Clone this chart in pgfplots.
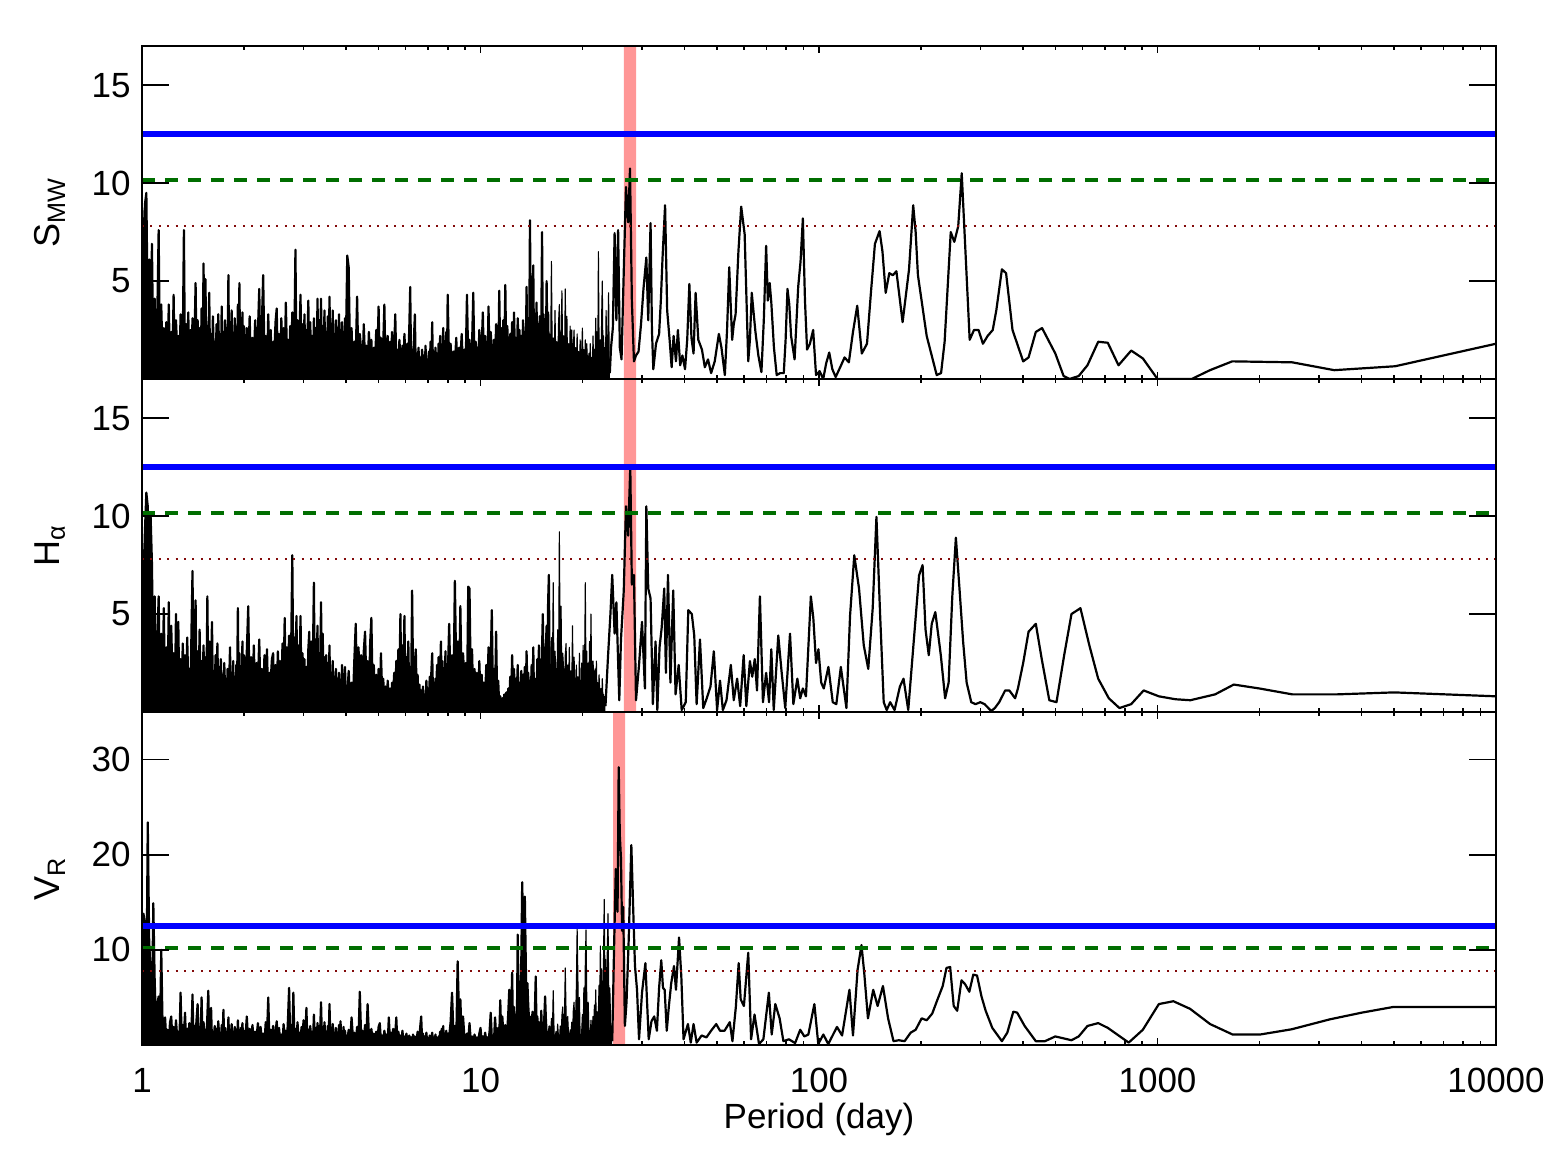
\documentclass[border=0pt]{standalone}
\usepackage{fontspec}
\setmainfont{Liberation Sans}
\usepackage{pgfplots}
\usepackage{pgfplotstable}
\pgfplotsset{compat=1.18}
\definecolor{bandred}{RGB}{255,150,150}
\definecolor{sigblue}{RGB}{0,0,255}
\definecolor{siggreen}{RGB}{0,110,0}
\definecolor{sigbrown}{RGB}{130,10,10}
\tikzset{mycurve/.style={black, line width=1.1pt, line join=round},
         thincurve/.style={black, line width=0.55pt, line join=round}}

\pgfplotstableread{
P S H V
1.00 8.6 8.3 12.0
1.01 5.2 6.5 13.8
1.02 8.9 9.2 12.8
1.03 9.5 11.2 4.0
1.04 3.1 10.5 23.4
1.05 6.1 5.0 11.0
1.06 1.4 10.1 7.6
1.07 6.9 7.6 3.2
1.08 0.8 2.0 14.9
1.09 4.1 5.9 6.9
1.10 1.2 1.1 2.1
1.11 3.4 3.6 4.3
1.12 7.6 5.9 5.1
1.13 0.6 0.7 1.0
1.14 3.8 4.0 10.0
1.15 1.0 1.6 2.2
1.16 2.6 5.3 0.8
1.17 0.3 0.4 2.9
1.18 2.9 3.3 0.4
1.19 1.1 1.0 1.6
1.20 3.8 5.6 0.3
1.21 0.5 0.6 2.4
1.22 2.4 4.4 3.0
1.23 0.9 1.8 0.5
1.24 4.3 3.0 1.9
1.25 0.2 0.3 0.2
1.26 3.0 5.0 2.6
1.27 1.6 1.2 0.9
1.28 2.2 4.6 1.4
1.29 0.4 0.5 0.3
1.30 3.3 2.7 5.5
1.31 0.7 1.4 0.6
1.32 2.0 3.5 2.1
1.33 7.6 0.2 1.0
1.34 0.3 2.9 3.4
1.35 2.8 0.8 0.2
1.36 1.2 3.8 1.7
1.37 3.4 1.5 0.4
1.38 0.1 2.2 2.3
1.39 2.5 0.4 0.8
1.40 0.9 4.1 1.5
1.41 3.1 7.2 5.3
1.42 0.5 1.0 0.3
1.43 2.2 3.9 2.0
1.44 4.9 5.7 1.1
1.45 0.6 0.6 2.8
1.46 3.0 3.1 4.3
1.47 1.3 1.3 0.5
1.48 2.6 4.2 1.9
1.49 0.2 0.3 0.9
1.50 3.6 2.6 5.0
1.51 1.0 1.7 0.2
1.52 5.9 3.4 2.4
1.53 0.8 0.5 1.2
1.54 5.1 2.8 1.6
1.55 0.4 1.1 0.4
1.56 2.7 5.9 3.1
1.57 1.5 0.9 5.7
1.58 4.4 3.6 0.7
1.59 0.3 0.2 2.2
1.60 2.3 2.4 3.9
1.61 0.7 4.6 0.3
1.62 3.2 0.7 1.4
1.63 1.1 2.1 0.8
1.64 1.9 1.3 2.0
1.65 0.1 2.9 0.1
1.66 2.8 0.4 1.7
1.67 0.6 3.5 0.5
1.68 3.3 1.0 2.5
1.69 1.4 2.3 1.0
1.70 2.1 0.1 1.3
1.71 0.5 2.7 0.2
1.72 3.7 0.8 2.1
1.73 0.2 1.9 0.6
1.74 2.4 0.5 3.7
1.75 1.0 2.5 0.4
1.76 3.0 1.2 1.8
1.77 0.4 1.7 0.9
1.78 2.6 0.3 1.2
1.79 1.2 2.2 0.1
1.80 5.3 0.9 2.9
1.81 0.3 1.6 0.5
1.82 2.9 3.3 1.6
1.83 0.8 0.4 0.3
1.84 3.5 2.0 2.2
1.85 1.3 1.1 0.8
1.86 2.0 2.6 1.0
1.87 0.1 0.2 0.2
1.88 3.1 1.8 1.9
1.89 0.6 0.7 0.6
1.90 2.5 2.4 1.4
1.91 1.1 1.4 0.4
1.92 3.8 5.3 2.6
1.93 0.4 0.6 0.7
1.94 4.9 3.0 1.1
1.95 0.9 1.2 0.2
1.96 2.2 2.3 1.8
1.97 0.2 0.3 0.5
1.98 3.4 3.6 2.3
1.99 1.0 0.8 0.9
2.00 2.7 2.9 1.5
2.02 0.4 1.2 0.6
2.04 2.6 3.1 3.0
2.06 0.9 5.4 0.3
2.08 3.2 0.6 1.7
2.10 0.2 2.8 0.5
2.12 2.1 1.0 2.1
2.14 1.1 3.4 0.2
2.16 3.0 0.3 1.4
2.18 0.5 2.5 0.8
2.20 2.4 1.4 2.3
2.22 4.6 3.7 0.4
2.24 0.3 0.8 1.9
2.26 2.8 2.2 0.6
2.28 5.3 0.4 1.2
2.30 1.2 2.9 0.1
2.32 2.2 1.1 2.4
2.34 0.1 3.2 0.9
2.36 3.3 0.5 5.0
2.38 0.8 2.0 0.3
2.40 2.5 1.6 1.6
2.42 0.4 2.7 0.7
2.44 1.9 3.0 2.0
2.46 1.3 0.2 0.2
2.48 2.9 2.4 1.3
2.50 3.6 0.9 2.5
2.52 0.6 3.1 0.5
2.54 2.3 1.3 1.8
2.56 0.2 2.6 0.4
2.58 3.1 0.6 1.1
2.60 1.0 3.5 0.2
2.62 2.6 1.8 2.2
2.64 0.5 4.8 0.8
2.66 3.9 0.7 1.5
2.68 1.4 3.3 0.3
2.70 2.0 2.1 2.8
2.72 0.3 3.9 6.0
2.74 2.7 0.4 0.9
2.76 0.9 3.6 2.1
2.78 3.4 8.0 0.6
2.80 1.1 1.2 5.5
2.82 2.2 3.8 0.4
2.84 6.6 2.5 1.7
2.86 0.7 4.9 0.2
2.88 3.0 0.9 2.4
2.90 1.5 3.4 0.7
2.92 2.4 2.0 1.3
2.94 4.3 4.9 0.3
2.96 0.2 0.6 1.9
2.98 2.8 3.0 0.5
3.00 1.2 1.5 2.6
3.02 3.3 2.7 0.8
3.04 0.4 0.3 1.2
3.06 2.5 2.3 3.9
3.08 1.7 1.1 0.4
3.10 4.0 3.2 1.6
3.12 0.6 4.1 0.2
3.14 2.9 0.8 2.0
3.16 1.0 3.6 0.9
3.18 2.2 1.9 1.4
3.20 0.3 3.1 0.3
3.22 3.1 6.6 3.2
3.24 1.4 1.0 0.6
3.26 2.6 3.7 1.8
3.28 0.5 2.4 0.4
3.30 4.1 4.4 2.3
3.32 0.9 0.5 1.0
3.34 3.0 3.0 0.2
3.36 1.8 2.2 1.5
3.38 4.1 5.6 4.5
3.40 0.2 1.4 0.7
3.42 2.7 4.0 1.9
3.44 1.3 0.7 0.3
3.46 3.5 2.8 2.4
3.48 0.7 1.6 0.8
3.50 2.4 2.9 1.1
3.52 1.1 0.4 0.2
3.54 3.2 2.5 2.0
3.56 0.4 1.2 0.5
3.58 4.2 3.4 4.3
3.60 1.6 0.6 0.9
3.62 2.8 2.0 1.6
3.64 0.8 1.3 0.3
3.66 3.5 2.6 2.2
3.68 1.2 0.2 0.7
3.70 2.3 1.8 1.3
3.72 0.3 0.9 0.1
3.74 3.0 2.2 1.8
3.76 1.5 0.5 0.6
3.78 2.6 1.7 1.2
3.80 0.6 1.1 0.4
3.82 3.3 2.0 2.1
3.84 1.0 0.3 0.8
3.86 2.5 1.5 2.5
3.88 0.2 0.8 0.3
3.90 2.9 2.4 1.4
3.92 1.3 0.6 0.7
3.94 2.1 1.9 1.9
3.96 0.5 1.0 0.2
3.98 3.1 2.3 1.5
4.00 1.4 0.4 0.6
4.04 6.3 0.9 0.5
4.08 5.7 2.1 1.6
4.12 0.8 0.3 0.2
4.16 2.6 1.5 2.9
4.20 0.3 0.6 0.7
4.24 1.9 2.7 1.3
4.28 1.2 4.5 0.3
4.32 4.2 1.0 1.9
4.36 0.5 3.3 0.6
4.40 2.3 1.8 5.6
4.44 1.5 2.9 0.9
4.48 0.2 0.7 1.5
4.52 2.8 3.1 0.4
4.56 0.9 4.1 2.1
4.60 1.7 1.4 0.8
4.64 0.4 2.6 4.3
4.68 2.4 0.5 1.1
4.72 1.1 3.5 0.3
4.76 2.0 4.8 1.7
4.80 0.3 1.2 0.5
4.84 1.6 2.4 1.2
4.88 0.7 0.4 0.2
4.92 2.5 1.9 1.4
4.96 1.3 0.8 0.6
5.00 3.7 2.2 1.9
5.04 0.5 0.3 2.3
5.08 2.1 3.0 0.4
5.12 0.2 1.1 1.0
5.16 1.8 1.7 0.3
5.20 3.8 0.5 1.5
5.24 0.6 1.3 0.7
5.28 1.4 0.2 1.1
5.32 2.2 1.6 0.2
5.36 0.4 0.6 2.9
5.40 1.9 1.2 0.5
5.44 1.0 0.3 1.3
5.48 2.4 1.5 0.4
5.52 0.3 0.9 1.7
5.56 1.6 2.0 0.8
5.60 3.3 0.7 1.2
5.64 0.8 2.6 2.9
5.68 1.5 1.3 0.3
5.72 0.2 3.2 1.4
5.76 2.0 1.8 0.6
5.80 1.1 5.0 1.0
5.84 0.4 0.9 0.2
5.88 1.7 3.4 1.5
5.92 0.6 2.1 0.4
5.96 2.3 4.9 0.9
6.00 1.2 1.0 0.3
6.04 0.3 2.8 1.2
6.08 1.8 1.5 0.5
6.12 0.9 3.6 0.1
6.16 2.6 0.6 1.0
6.20 4.7 2.3 0.4
6.24 0.5 1.2 0.8
6.28 1.4 6.2 0.2
6.32 0.7 2.0 1.1
6.36 2.1 0.8 0.3
6.40 3.3 2.5 0.9
6.44 0.2 3.2 0.2
6.48 1.3 0.7 0.6
6.52 0.6 1.9 1.4
6.56 1.6 0.4 0.4
6.60 0.4 1.4 0.8
6.64 1.1 0.6 2.0
6.68 0.3 1.1 3.0
6.72 1.5 0.3 0.6
6.76 0.8 1.3 1.2
6.80 1.2 0.5 0.3
6.84 0.2 0.9 0.9
6.88 1.7 0.2 0.5
6.92 0.6 1.6 1.3
6.96 1.0 0.7 0.2
7.00 0.3 1.2 0.7
7.04 1.4 0.4 0.4
7.08 0.5 1.8 1.0
7.12 1.9 0.6 0.2
7.16 0.7 2.1 0.6
7.20 2.9 3.0 1.3
7.24 0.4 0.8 0.3
7.28 1.2 1.5 0.8
7.32 0.2 0.3 0.2
7.36 1.6 1.7 1.1
7.40 0.8 0.9 0.4
7.44 1.3 2.4 0.7
7.48 0.3 1.1 0.2
7.52 1.8 2.8 0.9
7.56 0.6 0.5 0.5
7.60 2.2 1.9 1.4
7.64 0.4 3.6 0.3
7.68 1.5 1.3 1.7
7.72 0.9 2.6 0.6
7.76 2.6 0.7 2.0
7.80 0.2 2.0 0.4
7.84 1.7 1.4 1.0
7.88 1.1 3.1 0.3
7.92 2.4 0.8 1.5
7.96 0.5 2.2 0.7
8.00 4.3 1.6 1.2
8.08 0.6 4.5 0.9
8.16 1.8 1.2 2.4
8.24 0.3 2.9 5.5
8.32 1.4 0.8 1.1
8.40 0.8 6.7 2.0
8.48 2.1 2.0 0.4
8.56 0.2 3.6 8.8
8.64 1.6 1.0 3.1
8.72 1.0 5.4 4.8
8.80 2.3 0.9 0.6
8.88 0.4 3.0 3.0
8.96 1.5 1.7 0.9
9.04 0.7 2.5 0.3
9.12 4.3 0.5 1.2
9.20 0.9 6.4 0.5
9.28 2.0 6.3 2.3
9.36 0.3 1.4 0.4
9.44 1.7 3.2 0.9
9.52 4.4 0.6 0.2
9.60 0.6 2.2 1.1
9.68 1.9 1.1 0.5
9.76 1.2 2.0 0.8
9.84 0.4 0.4 0.3
9.92 2.5 2.6 1.2
10.00 0.8 0.8 1.8
10.08 1.6 1.9 0.4
10.16 3.4 0.3 0.9
10.24 0.5 1.5 0.2
10.32 2.2 0.7 1.3
10.40 1.1 2.4 0.5
10.48 0.3 1.0 0.8
10.56 3.7 3.3 0.3
10.64 0.9 1.2 1.5
10.72 2.4 2.7 3.4
10.80 1.4 5.2 0.7
10.88 0.2 0.9 1.0
10.96 2.0 2.2 0.4
11.04 0.7 0.6 2.9
11.12 2.8 4.1 1.1
11.20 1.3 0.7 0.3
11.28 0.4 1.6 1.8
11.36 4.5 0.3 0.9
11.44 1.0 0.8 4.7
11.52 2.6 0.2 0.6
11.60 0.5 0.7 3.0
11.68 3.0 0.4 1.2
11.76 1.5 0.9 0.4
11.84 4.8 0.3 2.1
11.92 0.6 1.0 0.7
12.00 2.7 0.5 1.5
12.08 1.2 1.2 3.4
12.16 0.3 0.4 5.8
12.24 2.3 1.8 0.9
12.32 1.1 0.6 2.6
12.40 2.9 2.9 7.6
12.48 0.5 1.1 1.3
12.56 3.4 2.2 4.0
12.64 1.4 0.5 0.7
12.72 2.1 1.7 3.2
12.80 0.4 0.9 1.4
12.88 3.1 2.4 11.6
12.96 1.6 0.6 5.2
13.04 2.5 1.5 4.8
13.12 0.7 0.8 2.2
13.20 2.2 2.1 9.0
13.28 1.3 0.4 17.1
13.36 3.0 1.9 12.0
13.44 0.9 1.2 10.5
13.52 2.4 2.3 15.6
13.60 1.0 0.7 9.3
13.68 4.7 3.1 3.3
13.76 0.6 1.2 6.5
13.84 3.1 2.0 4.1
13.92 1.2 0.5 2.6
14.00 8.1 1.6 3.0
14.08 2.9 0.8 1.9
14.16 1.1 2.4 1.6
14.24 3.5 0.8 3.5
14.32 5.8 3.3 2.0
14.40 0.8 0.4 0.8
14.48 2.6 1.7 3.8
14.56 1.7 1.3 7.2
14.64 3.9 0.6 1.7
14.72 0.5 2.7 3.0
14.80 2.8 1.1 0.9
14.88 1.4 3.4 2.4
14.96 3.2 1.0 2.0
15.04 0.9 2.6 0.4
15.12 2.6 1.4 3.6
15.20 7.5 3.2 1.2
15.28 1.9 5.0 2.3
15.36 3.3 1.5 0.6
15.44 0.7 2.9 3.1
15.52 2.8 1.2 5.1
15.60 1.5 3.4 2.8
15.68 5.0 4.4 1.1
15.76 2.0 2.5 0.6
15.84 3.4 5.6 0.9
15.92 0.8 7.0 1.2
16.00 2.3 2.4 2.0
}\dense

% transition zone
\pgfplotstableread{
P S
15.92 0.8
16.00 2.3
16.10 0.4
16.20 6.0
16.30 0.8
16.40 2.1
16.50 0.3
16.60 3.5
16.70 0.6
16.80 1.9
16.90 0.2
17.00 2.8
17.10 3.8
17.20 0.5
17.30 1.7
17.40 4.5
17.50 0.9
17.60 2.2
17.70 0.3
17.80 4.6
17.90 1.0
18.00 3.2
18.10 0.2
18.20 1.8
18.30 0.6
18.40 2.7
18.50 0.4
18.60 2.5
18.70 0.9
18.80 1.5
18.90 2.5
19.00 0.3
19.10 1.6
19.20 0.7
19.30 2.3
19.40 0.2
19.50 1.4
19.60 0.4
19.70 2.0
19.80 0.8
19.90 1.2
20.00 2.6
20.10 0.3
20.20 1.5
20.30 0.6
20.40 2.0
20.50 0.2
20.60 1.8
20.70 0.9
20.80 0.3
20.90 1.3
21.00 0.5
21.10 1.8
21.20 0.2
21.30 1.1
21.40 0.6
21.50 2.2
21.60 0.4
21.70 1.5
21.80 0.8
21.90 3.1
22.00 1.0
22.10 2.4
22.20 0.5
22.30 6.5
22.40 1.8
22.50 0.7
22.60 2.0
22.70 0.4
22.80 3.2
22.90 5.0
23.00 0.9
23.10 2.2
23.20 0.3
23.30 1.6
23.40 0.8
23.50 3.5
23.60 1.2
23.70 0.5
23.80 2.5
23.90 4.4
24.00 1.0
24.10 0.3
}\transS

\pgfplotstableread{
P H
15.92 7.0
16.00 2.4
16.10 0.5
16.20 3.8
16.30 1.2
16.40 6.6
16.50 0.9
16.60 3.1
16.70 2.0
16.80 0.4
16.90 4.2
17.00 1.5
17.10 9.2
17.20 2.6
17.30 5.4
17.40 0.8
17.50 3.0
17.60 2.2
17.70 0.3
17.80 2.9
17.90 3.5
18.00 0.6
18.10 2.4
18.20 1.0
18.30 3.3
18.40 0.5
18.50 2.1
18.60 1.2
18.70 4.4
18.80 0.7
18.90 2.8
19.00 1.5
19.10 0.2
19.20 2.4
19.30 0.9
19.40 1.8
19.50 0.4
19.60 3.0
19.70 1.1
19.80 0.3
19.90 2.5
20.00 1.2
20.10 3.4
20.20 0.6
20.30 2.2
20.40 6.6
20.50 1.4
20.60 3.1
20.70 0.5
20.80 2.5
20.90 1.0
21.00 3.6
21.10 0.8
21.20 5.0
21.30 1.6
21.40 0.3
21.50 2.6
21.60 1.8
21.70 0.5
21.80 2.2
21.90 0.9
22.00 2.6
22.10 0.4
22.20 1.5
22.30 0.7
22.40 1.9
22.50 1.0
22.60 0.3
22.70 1.2
22.80 0.5
22.90 1.7
23.00 0.6
23.10 0.9
23.20 0.2
23.30 0.8
23.40 0.3
}\transH

\pgfplotstableread{
P V
15.92 1.2
16.00 2.0
16.10 0.5
16.20 2.8
16.30 0.9
16.40 5.7
16.50 1.2
16.60 0.3
16.70 1.4
16.80 0.4
16.90 2.2
17.00 0.8
17.10 0.2
17.20 2.0
17.30 0.6
17.40 3.1
17.50 4.0
17.60 0.9
17.70 2.5
17.80 8.1
17.90 3.3
18.00 0.7
18.10 3.0
18.20 1.1
18.30 0.2
18.40 1.6
18.50 0.6
18.60 2.4
18.70 0.9
18.80 3.6
18.90 4.5
19.00 1.0
19.10 2.9
19.20 6.2
19.30 12.3
19.40 7.0
19.50 1.8
19.60 5.0
19.70 0.8
19.80 0.3
19.90 1.3
20.00 3.2
20.10 0.9
20.20 6.0
20.30 2.4
20.40 8.5
20.50 12.1
20.60 5.1
20.70 1.2
20.80 4.5
20.90 2.0
21.00 0.4
21.10 0.9
21.20 2.6
21.30 0.5
21.40 1.8
21.50 3.0
21.60 1.1
21.70 4.2
21.80 2.0
21.90 5.8
22.00 1.4
22.10 3.5
22.20 0.8
22.30 3.5
22.40 6.3
22.50 4.2
22.60 10.4
22.70 3.6
22.80 8.0
22.90 5.2
23.00 2.1
23.10 9.6
23.20 15.3
23.30 7.5
23.40 9.0
23.50 3.1
23.60 6.2
23.70 10.2
23.80 13.8
23.90 7.1
24.00 2.4
24.10 6.0
24.20 3.3
24.30 0.9
24.40 2.0
24.50 0.4
}\transV

\pgfplotstableread{
P S
24.10 0.3
24.3 1.6
24.6 2.6
24.9 7.45
25.2 3.0
25.5 7.6
25.8 1.6
26.1 1.0
26.5 5.5
26.9 9.8
27.3 8.0
27.65 10.75
28.0 4.0
28.4 0.9
28.8 1.2
29.3 1.4
29.8 2.8
30.3 4.6
30.9 6.2
31.3 3.0
31.8 7.96
32.1 2.5
32.4 0.5
33.0 1.8
33.7 2.3
34.1 4.0
34.5 6.2
35.1 8.87
35.6 3.5
36.2 2.0
36.7 0.6
37.2 2.2
37.8 0.9
38.3 2.5
38.9 0.7
39.5 1.2
40.2 0.5
40.8 2.0
41.4 4.85
42.0 2.1
42.6 1.3
43.2 4.4
44.0 2.0
45.1 1.5
46.0 0.6
47.0 1.0
48.0 0.3
49.2 0.9
50.6 2.3
51.5 1.6
52.7 0.2
53.5 2.5
54.3 5.7
54.9 3.6
55.4 2.0
56.0 2.8
56.7 3.3
57.8 6.5
58.9 8.8
60.3 7.4
61.8 0.9
62.5 2.0
63.3 4.4
64.0 3.5
64.9 2.4
66.2 1.2
67.6 0.35
68.7 3.0
69.8 6.8
70.6 4.0
71.5 4.9
72.3 3.9
73.6 1.6
75.0 0.2
76.8 0.3
78.7 0.3
79.7 2.0
80.7 4.6
81.7 3.8
82.7 2.2
84.7 1.0
86.8 4.7
88.2 6.0
89.6 8.2
90.9 4.0
92.2 1.5
94.0 1.8
96.1 2.5
98.0 0.2
100.4 0.4
102.9 0.0
105.0 0.8
107.2 1.35
109.5 0.5
112.0 0.1
115.5 0.6
119.0 1.1
122.5 0.85
126.0 2.4
129.7 3.74
133.8 1.3
138.6 1.8
142.5 4.5
146.3 6.9
151.0 7.55
154.0 6.5
157.4 4.4
161.3 5.4
165.3 5.3
169.3 5.5
176.6 2.9
184.5 5.6
189.8 8.87
193.0 7.5
196.0 5.3
208.0 2.2
222.7 0.2
229.4 0.3
235.0 1.9
245.0 7.5
251.0 7.0
257.8 7.8
264.0 10.5
278.7 2.0
287.0 2.5
296.0 2.5
305.0 1.8
315.0 2.2
326.0 2.5
334.0 3.5
347.0 5.6
357.0 5.4
373.0 2.5
401.0 0.9
416.0 1.1
437.0 2.4
456.0 2.6
499.0 1.3
528.0 0.15
550.0 0.0
585.0 0.15
621.0 0.7
668.0 1.9
713.0 1.85
767.0 0.7
836.0 1.45
905.0 1.05
1000 0.0
1262 0.0
1429 0.45
1663 0.9
2500 0.85
3327 0.45
5035 0.65
10000 1.8
}\tailS

\pgfplotstableread{
P H
23.40 0.3
23.8 2.8
24.2 5.0
24.5 7.0
24.9 4.0
25.2 5.6
25.7 0.6
26.0 3.7
26.5 6.2
26.9 10.5
27.3 9.0
27.7 12.5
28.0 6.5
28.4 7.0
28.8 0.6
29.4 2.4
30.0 4.6
30.6 1.2
30.9 10.5
31.3 6.3
31.8 5.8
32.3 0.4
32.9 3.6
33.3 0.1
33.8 3.3
34.3 4.3
34.9 6.3
35.3 2.0
35.8 7.0
36.4 1.5
37.1 6.2
37.7 0.9
38.5 2.4
39.3 0.1
40.4 0.5
41.1 5.2
42.1 5.0
42.8 3.9
43.5 0.4
44.5 3.7
45.5 0.2
46.6 0.7
47.8 1.3
48.9 3.1
50.0 0.1
51.0 1.6
52.0 0.1
53.3 0.6
54.9 2.4
56.0 0.6
57.3 1.7
58.5 0.3
59.9 2.9
61.0 0.3
62.5 2.6
63.5 1.8
64.6 2.7
65.6 1.1
66.9 5.9
68.3 0.5
69.8 2.0
71.2 0.5
72.3 3.2
73.5 0.1
75.8 3.9
77.5 2.1
79.5 0.2
82.1 4.0
84.0 0.4
86.3 1.7
88.0 0.7
89.6 1.2
91.5 0.8
94.6 5.9
96.2 4.8
98.0 2.5
99.6 3.2
101.5 1.5
103.3 1.2
106.6 2.3
109.8 0.5
112.5 0.4
116.0 2.3
120.5 0.2
123.5 4.9
127.1 8.0
131.3 6.3
135.6 3.4
139.8 2.2
144.1 5.3
147.8 9.96
151.6 4.9
155.3 0.5
158.5 0.1
162.3 0.5
167.2 0.1
173.4 1.3
177.7 1.7
183.5 0.1
190.4 3.56
197.5 6.97
202.3 7.5
206.4 4.2
211.0 2.9
215.3 4.5
220.6 5.1
229.0 2.9
235.8 0.7
241.5 1.5
247.6 5.9
253.7 8.9
260.0 6.3
266.5 3.6
273.0 1.5
281.7 0.5
290.0 0.4
299.6 0.5
308.5 0.4
322.6 0.05
330.7 0.2
340.7 0.5
354.8 1.1
365.0 1.1
379.6 0.7
387.0 1.2
401.0 2.5
416.0 4.1
437.0 4.5
455.0 2.7
479.0 0.6
503.0 0.5
530.0 2.9
557.0 5.0
592.0 5.3
629.0 3.4
668.0 1.7
718.0 0.7
772.0 0.2
836.0 0.4
910.0 1.1
1009 0.8
1130 0.65
1250 0.6
1480 0.9
1680 1.4
2000 1.2
2500 0.9
3400 0.9
5000 1.0
10000 0.8
}\tailH

\pgfplotstableread{
P V
24.50 0.4
24.8 10.0
25.1 18.5
25.4 14.0
25.6 29.2
25.8 22.0
26.0 19.6
26.2 12.0
26.4 14.5
26.7 2.0
27.0 4.5
27.4 11.0
27.9 21.0
28.3 13.5
28.6 8.3
29.0 5.8
29.4 0.6
30.0 5.5
30.7 8.6
31.0 5.1
31.4 0.6
32.0 2.5
32.6 3.0
33.2 1.5
33.7 6.0
34.2 8.9
34.6 6.0
35.0 5.8
35.5 1.5
36.0 4.0
36.6 6.5
37.3 8.3
37.8 5.8
38.6 11.3
39.2 7.2
39.8 0.6
41.0 2.2
41.8 0.25
42.6 2.2
43.5 0.25
45.0 1.0
46.5 0.8
48.0 1.5
49.7 2.2
51.0 1.5
52.6 1.5
54.5 2.4
55.5 0.4
56.8 4.0
57.9 8.6
58.7 4.8
60.0 4.1
61.8 9.7
63.0 0.6
64.5 3.2
66.5 0.1
68.5 0.6
71.1 5.5
72.5 1.1
74.3 4.3
76.5 2.8
78.5 0.4
81.5 0.6
85.0 0.2
88.0 1.6
90.5 0.9
93.0 1.1
96.9 4.3
99.5 0.1
103.0 1.1
106.5 0.1
113.0 1.9
117.0 1.0
123.0 5.8
126.0 1.0
130.0 7.9
133.5 10.5
136.0 7.6
139.5 2.8
144.6 5.8
149.0 4.1
154.5 6.2
160.0 2.8
166.0 0.4
172.0 0.5
179.0 0.4
186.6 1.3
193.0 1.6
201.0 2.8
208.0 2.6
216.0 3.3
224.0 4.8
232.0 6.2
238.0 8.1
244.0 8.2
250.0 4.1
256.0 3.6
263.6 6.8
270.0 6.4
278.0 5.6
285.6 7.4
293.0 7.3
302.0 5.1
310.7 3.6
325.0 1.8
347.0 0.4
360.0 1.3
375.0 3.5
385.0 3.4
405.0 2.0
437.0 0.4
465.0 0.4
499.0 0.9
557.0 0.5
585.0 0.9
621.0 2.0
668.0 2.3
713.0 1.8
822.0 0.25
905.0 1.6
1009 4.3
1114 4.6
1248 3.8
1430 2.2
1667 1.1
2009 1.1
2490 1.65
3233 2.7
4012 3.4
4976 4.0
10000 4.0
}\tailV

\begin{document}
\begin{tikzpicture}
\useasboundingbox (-71pt,-57pt) rectangle (713pt,522.5pt);
% ===== top panel: data axis with x ticks =====
\begin{axis}[
  at={(0pt,333pt)}, anchor=south west,
  scale only axis, width=677pt, height=166.5pt,
  xmode=log, xmin=1, xmax=10000, ymin=0, ymax=17,
  xtick={1,10,100,1000,10000}, xticklabels={},
  ytick=\empty,
  tick align=inside,
  major tick length=3.4pt, minor tick length=1.8pt,
  every tick/.append style={black, line width=0.8pt},
  axis line style={line width=0.9pt}]
\addplot[fill=bandred, draw=none] coordinates {(26.54,0) (28.80,0) (28.80,17) (26.54,17)} \closedcycle;
\addplot[fill=black, draw=none] table[x=P,y=S] {\dense} \closedcycle;
\addplot[fill=black, draw=none] table[x=P,y=S] {\transS} \closedcycle;
\addplot[mycurve] table[x=P,y=S] {\dense};
\addplot[thincurve] table[x=P,y=S] {\transS};
\addplot[mycurve] table[x=P,y=S] {\tailS};
\addplot[sigbrown, line width=1pt, dash pattern=on 1pt off 3.2pt] coordinates {(1,7.8) (10000,7.8)};
\addplot[siggreen, line width=2pt, dash pattern=on 6.5pt off 5pt] coordinates {(1,10.15) (10000,10.15)};
\addplot[sigblue, line width=3pt] coordinates {(1,12.5) (10000,12.5)};
\end{axis}
% top panel: y ticks overlay
\begin{axis}[
  at={(0pt,333pt)}, anchor=south west,
  scale only axis, width=677pt, height=166.5pt,
  xmode=log, xmin=1, xmax=10000, ymin=0, ymax=17,
  xtick=\empty, ytick={5,10,15}, minor y tick num=0,
  tick align=inside, major tick length=13.5pt,
  every tick/.append style={black, line width=0.8pt},
  axis line style={line width=0.9pt},
  yticklabel style={font=\fontsize{17.5}{17.5}\selectfont, anchor=east, inner sep=0pt, xshift=-5.5pt},
  ylabel={S\textsubscript{MW}},
  ylabel style={font=\fontsize{18}{18}\selectfont, at={(axis description cs:-0.068,0.5)}, anchor=center},
  /pgf/number format/assume math mode=true]
\end{axis}
% ===== middle panel =====
\begin{axis}[
  at={(0pt,166.5pt)}, anchor=south west,
  scale only axis, width=677pt, height=166.5pt,
  xmode=log, xmin=1, xmax=10000, ymin=0, ymax=17,
  xtick={1,10,100,1000,10000}, xticklabels={},
  ytick=\empty,
  tick align=inside,
  major tick length=3.4pt, minor tick length=1.8pt,
  every tick/.append style={black, line width=0.8pt},
  axis line style={line width=0.9pt}]
\addplot[fill=bandred, draw=none] coordinates {(26.54,0) (28.80,0) (28.80,17) (26.54,17)} \closedcycle;
\addplot[fill=black, draw=none] table[x=P,y=H] {\dense} \closedcycle;
\addplot[fill=black, draw=none] table[x=P,y=H] {\transH} \closedcycle;
\addplot[mycurve] table[x=P,y=H] {\dense};
\addplot[thincurve] table[x=P,y=H] {\transH};
\addplot[mycurve] table[x=P,y=H] {\tailH};
\addplot[sigbrown, line width=1pt, dash pattern=on 1pt off 3.2pt] coordinates {(1,7.8) (10000,7.8)};
\addplot[siggreen, line width=2pt, dash pattern=on 6.5pt off 5pt] coordinates {(1,10.15) (10000,10.15)};
\addplot[sigblue, line width=3pt] coordinates {(1,12.5) (10000,12.5)};
\end{axis}
\begin{axis}[
  at={(0pt,166.5pt)}, anchor=south west,
  scale only axis, width=677pt, height=166.5pt,
  xmode=log, xmin=1, xmax=10000, ymin=0, ymax=17,
  xtick=\empty, ytick={5,10,15}, minor y tick num=0,
  tick align=inside, major tick length=13.5pt,
  every tick/.append style={black, line width=0.8pt},
  axis line style={line width=0.9pt},
  yticklabel style={font=\fontsize{17.5}{17.5}\selectfont, anchor=east, inner sep=0pt, xshift=-5.5pt},
  ylabel={H\textsubscript{α}},
  ylabel style={font=\fontsize{18}{18}\selectfont, at={(axis description cs:-0.068,0.5)}, anchor=center},
  /pgf/number format/assume math mode=true]
\end{axis}
% ===== bottom panel =====
\begin{axis}[
  at={(0pt,0pt)}, anchor=south west,
  scale only axis, width=677pt, height=166.5pt,
  xmode=log, xmin=1, xmax=10000, ymin=0, ymax=35,
  xtick={1,10,100,1000,10000}, xticklabels={1,10,100,1000,10000},
  ytick=\empty,
  tick align=inside,
  major tick length=3.4pt, minor tick length=1.8pt,
  every tick/.append style={black, line width=0.8pt},
  axis line style={line width=0.9pt},
  xticklabel style={font=\fontsize{17.5}{17.5}\selectfont, anchor=north, inner sep=0pt, yshift=-11.5pt},
  xlabel={Period (day)},
  xlabel style={font=\fontsize{17.5}{17.5}\selectfont, at={(axis description cs:0.5,0)}, anchor=center, yshift=-37pt}]
\addplot[fill=bandred, draw=none] coordinates {(24.63,0) (26.73,0) (26.73,35) (24.63,35)} \closedcycle;
\addplot[fill=black, draw=none] table[x=P,y=V] {\dense} \closedcycle;
\addplot[fill=black, draw=none] table[x=P,y=V] {\transV} \closedcycle;
\addplot[mycurve] table[x=P,y=V] {\dense};
\addplot[thincurve] table[x=P,y=V] {\transV};
\addplot[mycurve] table[x=P,y=V] {\tailV};
\addplot[sigbrown, line width=1pt, dash pattern=on 1pt off 3.2pt] coordinates {(1,7.8) (10000,7.8)};
\addplot[siggreen, line width=2pt, dash pattern=on 6.5pt off 5pt] coordinates {(1,10.15) (10000,10.15)};
\addplot[sigblue, line width=3pt] coordinates {(1,12.5) (10000,12.5)};
\end{axis}
\begin{axis}[
  at={(0pt,0pt)}, anchor=south west,
  scale only axis, width=677pt, height=166.5pt,
  xmode=log, xmin=1, xmax=10000, ymin=0, ymax=35,
  xtick=\empty, ytick={10,20,30}, minor y tick num=0,
  tick align=inside, major tick length=13.5pt,
  every tick/.append style={black, line width=0.8pt},
  axis line style={line width=0.9pt},
  yticklabel style={font=\fontsize{17.5}{17.5}\selectfont, anchor=east, inner sep=0pt, xshift=-5.5pt},
  ylabel={V\textsubscript{R}},
  ylabel style={font=\fontsize{18}{18}\selectfont, at={(axis description cs:-0.068,0.5)}, anchor=center},
  /pgf/number format/assume math mode=true]
\end{axis}
\end{tikzpicture}
\end{document}
